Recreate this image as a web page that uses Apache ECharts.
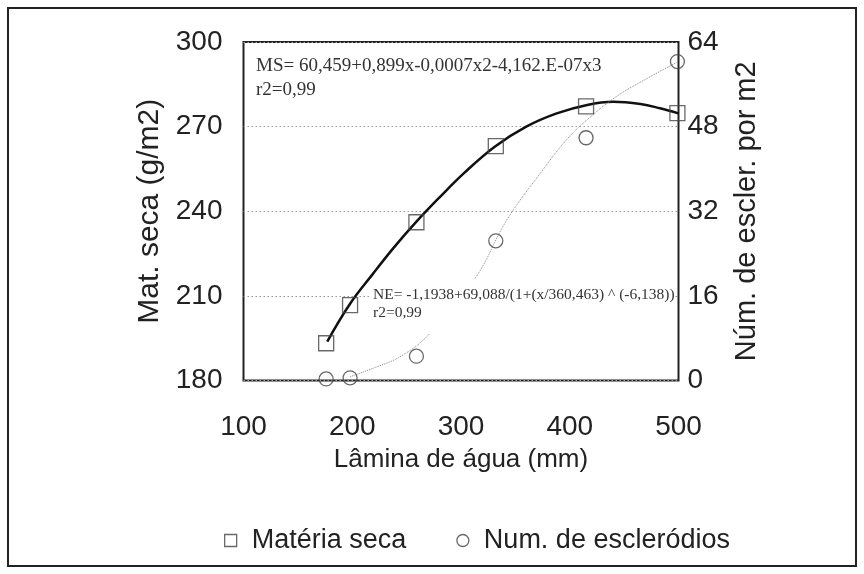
<!doctype html>
<html lang="pt">
<head>
<meta charset="UTF-8">
<title>Matéria seca e escleródios</title>
<script src="https://cdn.jsdelivr.net/npm/echarts@6/dist/echarts.min.js"></script>
<style>
  html, body { margin: 0; padding: 0; background: #fff; }
  #main { width: 864px; height: 574px; }
</style>
</head>
<body>
<div id="main"></div>
<script>
// lâmina de água (mm) dos tratamentos
var lamina = [176, 198, 259, 332, 415, 499];
// matéria seca (g/m2), eixo esquerdo
var materiaSeca = [193.2, 206.7, 236.1, 263.1, 277.2, 274.8];
// número de escleródios por m2, eixo direito
var numEscl = [0.3, 0.5, 4.6, 26.4, 45.9, 60.3];

// curva ajustada MS
var msFitX = [177, 198, 219, 238, 259, 281, 303, 331, 360, 388, 416, 440, 465, 483, 500];
var msFitY = [193.8, 207.2, 217.8, 227.0, 236.3, 245.2, 253.6, 262.9, 270.0, 274.7, 277.7, 278.8, 278.0, 276.5, 274.7];
// curva ajustada NE
var neFitX = [198, 219, 244, 270, 313, 342, 373, 397, 416, 443, 471, 499];
var neFitY = [0.7, 2.3, 4.5, 8.6, 19.3, 30.3, 39.2, 45.5, 49.3, 53.7, 57.1, 60.2];

var xTicks = [100, 200, 300, 400, 500];

function pairs(xs, ys) {
    var out = [];
    for (var i = 0; i < xs.length; i++) out.push([xs[i], ys[i]]);
    return out;
}

var sans = 'Liberation Sans';
var hollow = { color: 'rgba(0,0,0,0)', borderColor: '#444', borderWidth: 1.3 };
var gridDots = { type: [1.5, 2.5], color: '#999', width: 1 };

var myChart = echarts.init(document.getElementById('main'));
myChart.setOption({
    backgroundColor: '#fff',
    animation: false,
    grid: {
        left: 243.5, right: 185.5, top: 42, bottom: 193.5,
        show: true, borderColor: '#222', borderWidth: 2
    },
    legend: {
        left: 219, top: 522,
        itemWidth: 12, itemHeight: 12, itemGap: 50,
        textStyle: { fontFamily: sans, fontSize: 27, color: '#222', padding: [0, 0, 0, 10] },
        data: [
            { name: 'Matéria seca', icon: 'rect', itemStyle: hollow },
            { name: 'Num. de escleródios', icon: 'circle', itemStyle: hollow }
        ]
    },
    xAxis: {
        type: 'value', min: 100, max: 500, interval: 100,
        name: 'Lâmina de água (mm)', nameLocation: 'middle', nameGap: 64,
        nameTextStyle: { fontFamily: sans, fontSize: 26, color: '#222' },
        axisLine: { show: false }, axisTick: { show: false },
        splitLine: { show: false },
        axisLabel: {
            margin: 33, fontFamily: sans, fontSize: 28, color: '#222',
            formatter: function (v) { return xTicks.indexOf(v) >= 0 ? String(v) : ''; }
        }
    },
    yAxis: [{
        type: 'value', min: 180, max: 300, interval: 30, position: 'left',
        name: 'Mat. seca (g/m2)', nameLocation: 'middle', nameGap: 76, nameRotate: 90,
        nameTextStyle: { fontFamily: sans, fontSize: 30, color: '#222' },
        axisLine: { show: false }, axisTick: { show: false },
        axisLabel: { margin: 21, fontFamily: sans, fontSize: 28, color: '#222' },
        splitLine: { show: true, lineStyle: gridDots }
    }, {
        type: 'value', min: 0, max: 64, interval: 16, position: 'right',
        name: 'Núm. de escler. por m2', nameLocation: 'middle', nameGap: 54, nameRotate: 90,
        nameTextStyle: { fontFamily: sans, fontSize: 29, color: '#222' },
        axisLine: { show: false }, axisTick: { show: false },
        axisLabel: { margin: 9, fontFamily: sans, fontSize: 28, color: '#222' },
        splitLine: { show: false }
    }],
    graphic: [
        { type: 'rect', z: 100, shape: { x: 8, y: 8, width: 848, height: 558 },
          style: { fill: 'none', stroke: '#222', lineWidth: 2 } },
        { type: 'text', z: 100, left: 256, top: 54,
          style: { text: 'MS= 60,459+0,899x-0,0007x2-4,162.E-07x3\nr2=0,99',
                   font: '19px "Liberation Serif"', fill: '#333', lineHeight: 24 } },
        { type: 'rect', z: 99, shape: { x: 370, y: 279, width: 305, height: 55 },
          style: { fill: '#fff' } },
        { type: 'text', z: 100, left: 373, top: 286,
          style: { text: 'NE= -1,1938+69,088/(1+(x/360,463) ^ (-6,138))\nr2=0,99',
                   font: '15.5px "Liberation Serif"', fill: '#333', lineHeight: 18 } }
    ],
    series: [{
        name: 'MS ajuste', type: 'line', yAxisIndex: 0, smooth: 0.4,
        showSymbol: false, silent: true,
        lineStyle: { color: '#111', width: 2.5 },
        data: pairs(msFitX, msFitY)
    }, {
        name: 'NE ajuste', type: 'line', yAxisIndex: 1, smooth: 0.4,
        showSymbol: false, silent: true,
        lineStyle: { color: '#888', width: 1, type: 'dotted' },
        data: pairs(neFitX, neFitY)
    }, {
        name: 'Matéria seca', type: 'scatter', yAxisIndex: 0,
        symbol: 'rect', symbolSize: 15, itemStyle: hollow, z: 5,
        data: pairs(lamina, materiaSeca)
    }, {
        name: 'Num. de escleródios', type: 'scatter', yAxisIndex: 1,
        symbol: 'circle', symbolSize: 14, itemStyle: hollow, z: 5,
        data: pairs(lamina, numEscl)
    }]
});
</script>
</body>
</html>
